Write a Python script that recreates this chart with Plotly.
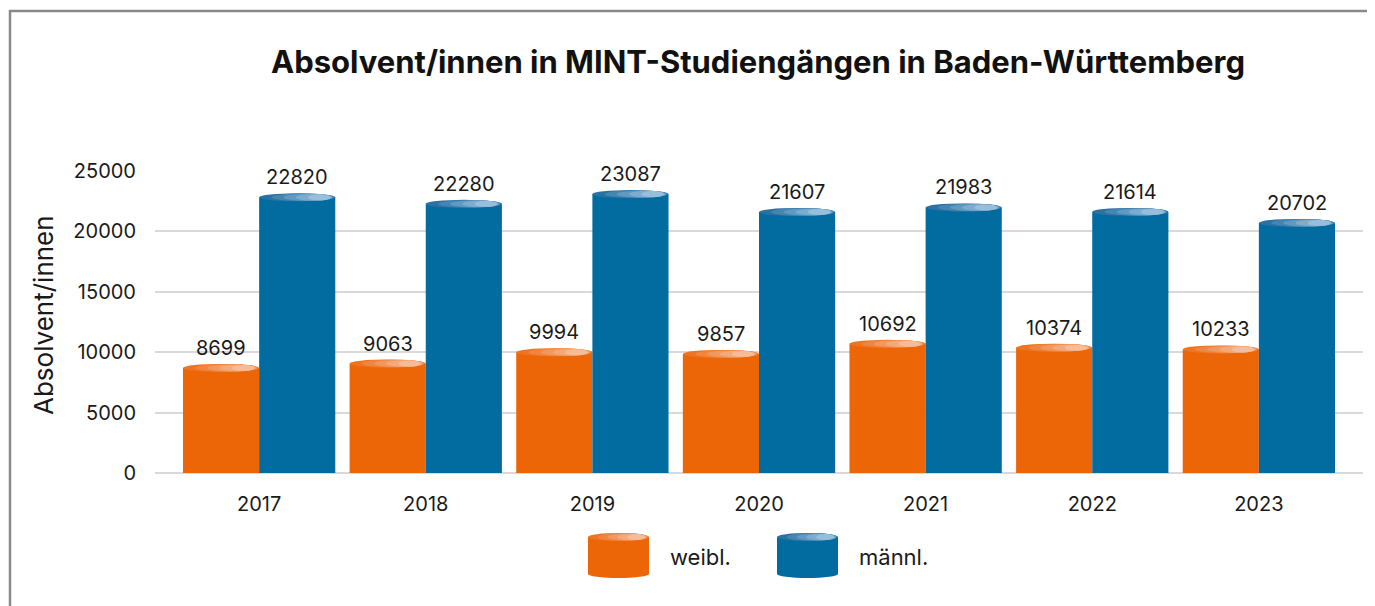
import plotly.graph_objects as go

years = ["2017", "2018", "2019", "2020", "2021", "2022", "2023"]
weibl = [8699, 9063, 9994, 9857, 10692, 10374, 10233]
maennl = [22820, 22280, 23087, 21607, 21983, 21614, 20702]
series_names = ["weibl.", "männl."]
y_ticks = [0, 5000, 10000, 15000, 20000, 25000]

ORANGE = "#ec6608"
BLUE = "#026ca0"
ORANGE_CAP = ["#ee7421", "#f08540", "#f2975d", "#f4a97a", "#f6bb97"]
BLUE_CAP = ["#2a72a4", "#4585b2", "#6199c1", "#7caccf", "#97bfdc"]

# page body has an 8px margin; figure sized to fill the rest of the window
OFF = 8
W, H = 1375 - OFF, 606 - OFF
L, R, T, B = 155 - OFF, 12, 171 - OFF, 133
PW, PH = W - L - R, H - T - B

def pxx(X):
    return (X - OFF - L) / PW

def pxy(Y):
    return (T + PH - (Y - OFF)) / PH

bargap = 0.086
bw = (1 - bargap) / 2
offs = [-bw / 2, bw / 2]
FONT = "Inter, Liberation Sans, Arial, sans-serif"

fig = go.Figure()
for name, vals, col in [(series_names[0], weibl, ORANGE), (series_names[1], maennl, BLUE)]:
    fig.add_trace(go.Bar(x=years, y=vals, name=name, marker=dict(color=col, line=dict(width=0)),
                         showlegend=False, hoverinfo="x+y+name"))

shapes = []
annotations = []

def cylinder_caps(xc, half_w, xref, yref, ybot, ytop, base, caps, hh=4):
    out = []
    out.append(dict(type="circle", xref=xref, yref=yref, ysizemode="pixel", yanchor=ybot,
                    x0=xc - half_w, x1=xc + half_w, y0=-hh, y1=hh,
                    fillcolor=base, line=dict(width=0), layer="above"))
    n = len(caps)
    for k, c in enumerate(caps):
        left = xc - half_w + 2 * half_w * 0.16 * k
        right = xc + half_w - 2 * half_w * 0.015 * k
        shrink = 0.25 * k
        out.append(dict(type="circle", xref=xref, yref=yref, ysizemode="pixel", yanchor=ytop,
                        x0=left, x1=right, y0=-hh + shrink, y1=hh - shrink,
                        fillcolor=c, line=dict(width=0), layer="above"))
    return out

for s, (vals, base, caps) in enumerate([(weibl, ORANGE, ORANGE_CAP), (maennl, BLUE, BLUE_CAP)]):
    for i, v in enumerate(vals):
        xc = i + offs[s]
        shapes += cylinder_caps(xc, bw / 2, "x", "y", 0, v, base, caps)
        annotations.append(dict(x=xc, y=v, xref="x", yref="y", text=str(v), showarrow=False,
                                yanchor="bottom", yshift=6,
                                font=dict(family=FONT, size=20, color="#1a1a1a")))

# custom legend with cylinder icons
leg_icons = [(588, 649, ORANGE, ORANGE_CAP, 668), (777, 838, BLUE, BLUE_CAP, 857)]
for (x0p, x1p, base, caps, tx), name in zip(leg_icons, series_names):
    xa, xb = pxx(x0p), pxx(x1p)
    ytop, ybot = pxy(537), pxy(574)
    shapes.append(dict(type="rect", xref="paper", yref="paper", x0=xa, x1=xb, y0=ybot, y1=ytop,
                       fillcolor=base, line=dict(width=0), layer="above"))
    shapes += cylinder_caps((xa + xb) / 2, (xb - xa) / 2, "paper", "paper", ybot, ytop, base, caps)
    annotations.append(dict(x=pxx(tx), y=pxy(557), xref="paper", yref="paper", text=name,
                            showarrow=False, xanchor="left", yanchor="middle",
                            font=dict(family=FONT, size=22, color="#1a1a1a")))

# y axis title
annotations.append(dict(x=pxx(43), y=pxy(315), xref="paper", yref="paper", text="Absolvent/innen",
                        showarrow=False, textangle=-90, xanchor="center", yanchor="middle",
                        font=dict(family=FONT, size=26, color="#1a1a1a")))

# outer frame
shapes.append(dict(type="rect", xref="paper", yref="paper", x0=pxx(10), x1=pxx(1420),
                   y0=pxy(660), y1=pxy(11), line=dict(color="#8a8a8a", width=2.5),
                   fillcolor="rgba(0,0,0,0)", layer="above"))

fig.update_layout(
    width=W, height=H,
    margin=dict(l=L, r=R, t=T, b=B),
    paper_bgcolor="white", plot_bgcolor="white",
    barmode="group", bargap=bargap, bargroupgap=0,
    title=dict(text="<b>Absolvent/innen in MINT-Studiengängen in Baden-Württemberg</b>",
               x=pxx(758), xref="paper", xanchor="center",
               y=1 - (62 - OFF) / H, yref="container", yanchor="middle",
               font=dict(family=FONT, size=31, color="#111111")),
    xaxis=dict(type="category", range=[-0.625, len(years) - 1 + 0.625], showgrid=False,
               showline=False, zeroline=False, ticks="", ticklabelstandoff=17,
               tickfont=dict(family=FONT, size=20, color="#1a1a1a")),
    yaxis=dict(range=[0, 25000], tickvals=y_ticks, ticktext=[str(t) for t in y_ticks],
               showgrid=True, gridcolor="#dcd7d9", gridwidth=2, zeroline=True,
               zerolinecolor="#dcd7d9", zerolinewidth=2, showline=False, ticks="",
               ticklabelstandoff=18, tickfont=dict(family=FONT, size=20, color="#1a1a1a")),
    shapes=shapes, annotations=annotations, showlegend=False,
)

fig.write_html("out.html")
